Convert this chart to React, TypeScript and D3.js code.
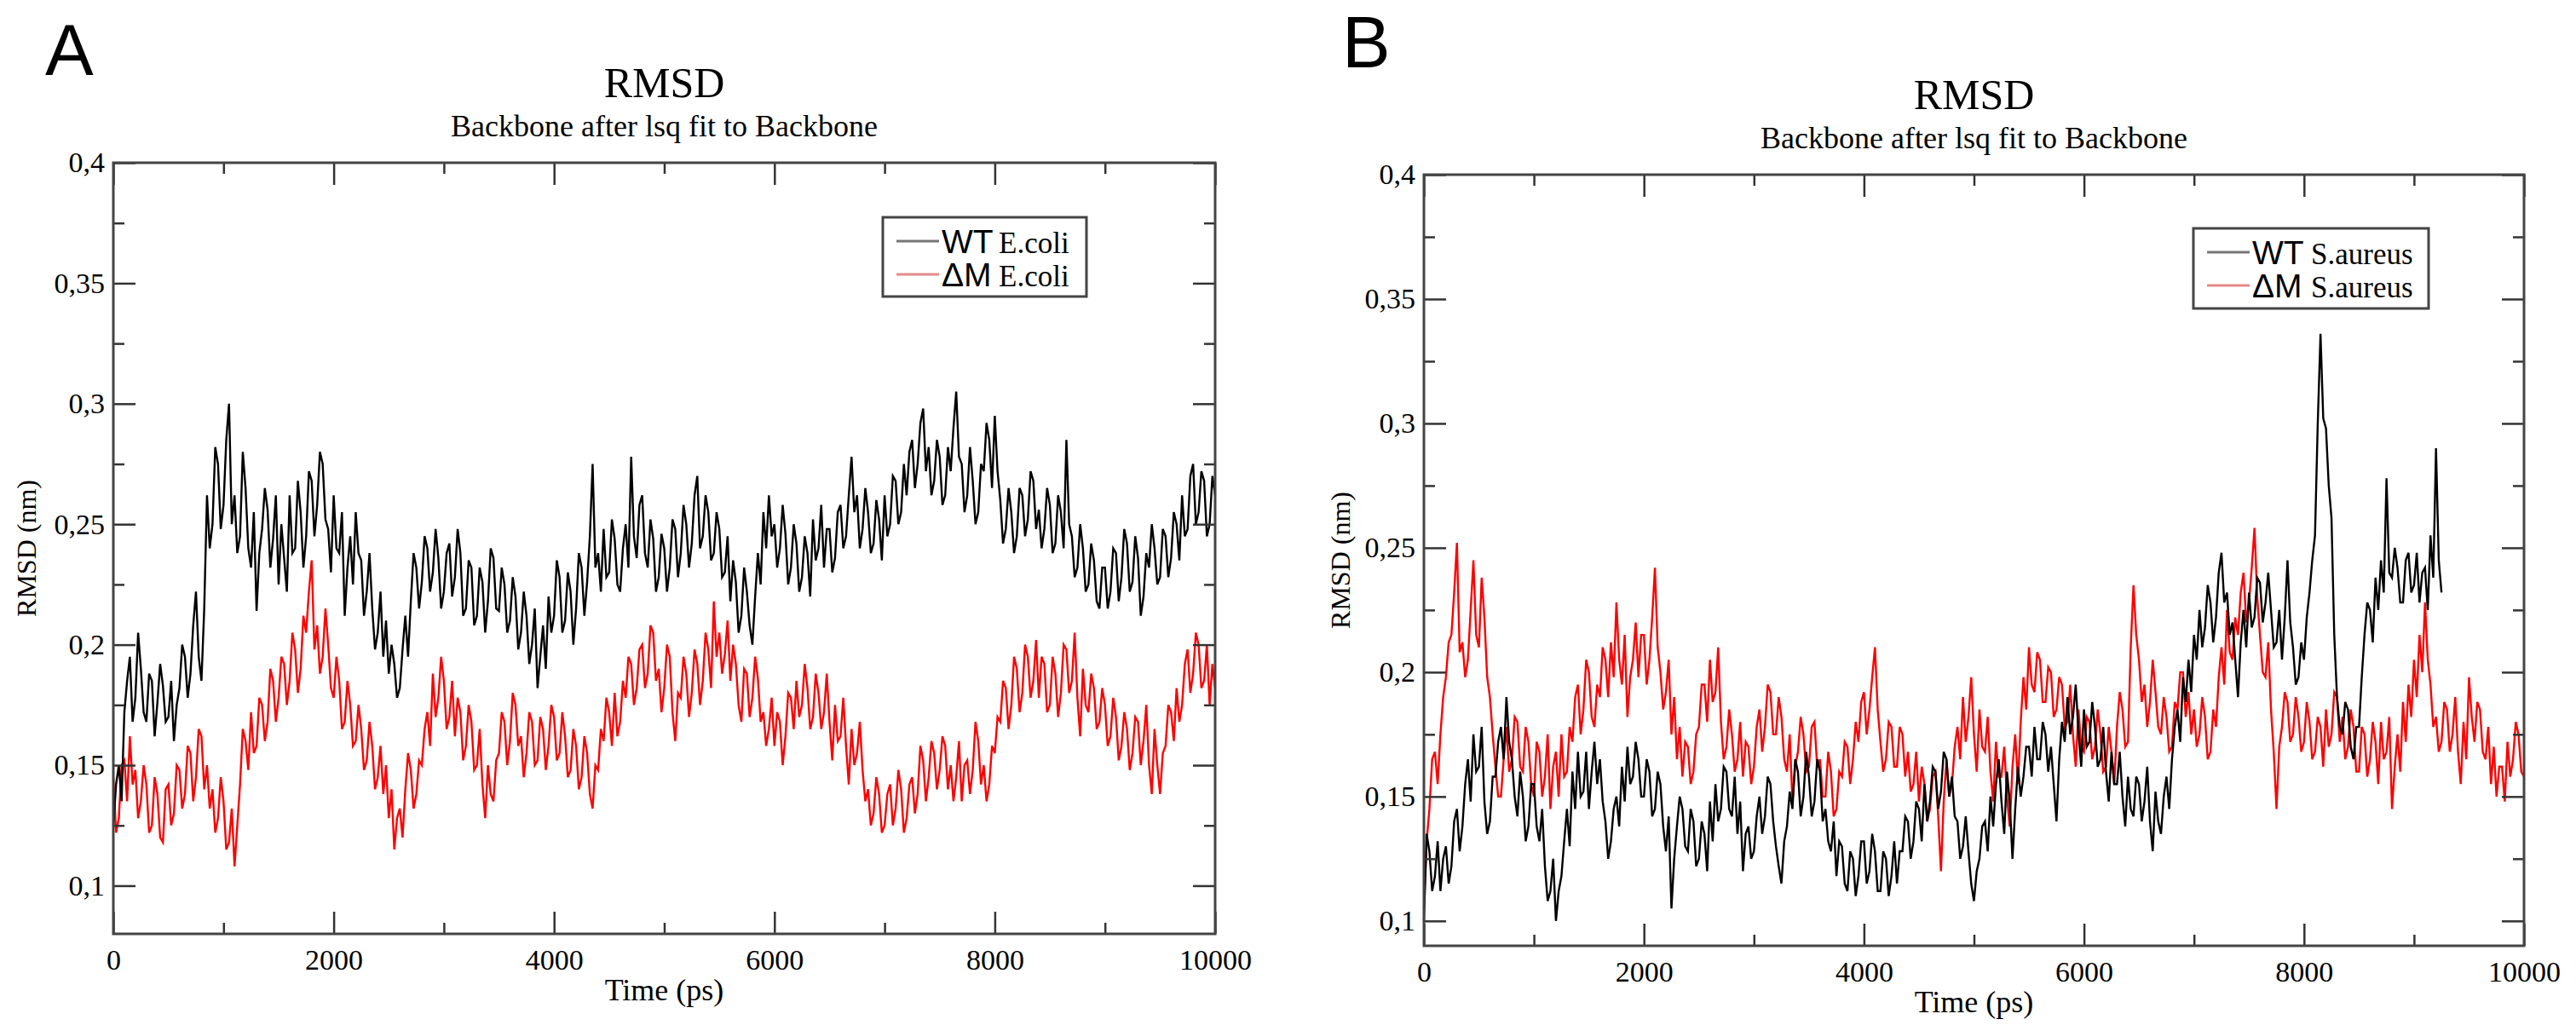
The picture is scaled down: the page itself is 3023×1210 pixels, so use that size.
import React, { useEffect, useRef } from "react";
import * as d3 from "d3";

// sampling step of all series (ps)
const timeStep = 25;

const xMajorTicks = [0, 2000, 4000, 6000, 8000, 10000];
const xMinorTicks = [1000, 3000, 5000, 7000, 9000];
const yMajorTicks = [0.1, 0.15, 0.2, 0.25, 0.3, 0.35, 0.4];
const yMajorLabels = ["0,1", "0,15", "0,2", "0,25", "0,3", "0,35", "0,4"];
const yMinorTicks = [0.125, 0.175, 0.225, 0.275, 0.325, 0.375];

// Panel A: E.coli, 0..10000 ps (one row = 500 ps)
const wtEcoli = [
    0.125, 0.142, 0.150, 0.135, 0.172, 0.185, 0.195, 0.168, 0.178, 0.205, 0.190, 0.172, 0.168, 0.188, 0.185, 0.162, 0.176, 0.192, 0.183, 0.168,
    0.170, 0.185, 0.160, 0.175, 0.182, 0.200, 0.195, 0.178, 0.188, 0.208, 0.222, 0.195, 0.185, 0.215, 0.262, 0.240, 0.250, 0.282, 0.275, 0.248,
    0.258, 0.285, 0.300, 0.250, 0.262, 0.238, 0.245, 0.280, 0.265, 0.240, 0.232, 0.255, 0.214, 0.238, 0.248, 0.265, 0.256, 0.232, 0.244, 0.262,
    0.225, 0.250, 0.236, 0.222, 0.262, 0.238, 0.240, 0.268, 0.255, 0.232, 0.245, 0.272, 0.268, 0.245, 0.258, 0.280, 0.275, 0.252, 0.248, 0.230,
    0.262, 0.240, 0.238, 0.255, 0.212, 0.232, 0.245, 0.225, 0.255, 0.238, 0.235, 0.212, 0.222, 0.238, 0.215, 0.198, 0.205, 0.222, 0.195, 0.210,
    0.188, 0.200, 0.192, 0.178, 0.182, 0.198, 0.212, 0.195, 0.218, 0.238, 0.232, 0.215, 0.226, 0.245, 0.240, 0.222, 0.230, 0.248, 0.236, 0.215,
    0.222, 0.238, 0.242, 0.220, 0.228, 0.248, 0.238, 0.212, 0.215, 0.235, 0.232, 0.208, 0.212, 0.232, 0.226, 0.205, 0.218, 0.240, 0.236, 0.215,
    0.214, 0.232, 0.225, 0.205, 0.210, 0.228, 0.220, 0.198, 0.205, 0.222, 0.212, 0.192, 0.200, 0.215, 0.182, 0.195, 0.208, 0.190, 0.220, 0.205,
    0.212, 0.235, 0.228, 0.205, 0.210, 0.230, 0.222, 0.200, 0.215, 0.238, 0.232, 0.212, 0.226, 0.245, 0.275, 0.232, 0.238, 0.222, 0.248, 0.228,
    0.230, 0.252, 0.244, 0.225, 0.222, 0.240, 0.250, 0.232, 0.278, 0.245, 0.236, 0.258, 0.262, 0.238, 0.232, 0.252, 0.244, 0.222, 0.228, 0.246,
    0.240, 0.222, 0.232, 0.252, 0.248, 0.228, 0.238, 0.258, 0.250, 0.232, 0.242, 0.262, 0.270, 0.240, 0.245, 0.262, 0.255, 0.235, 0.238, 0.255,
    0.248, 0.228, 0.230, 0.245, 0.218, 0.235, 0.226, 0.205, 0.212, 0.232, 0.222, 0.208, 0.200, 0.220, 0.238, 0.225, 0.255, 0.240, 0.262, 0.245,
    0.250, 0.232, 0.240, 0.258, 0.246, 0.225, 0.232, 0.250, 0.242, 0.222, 0.228, 0.245, 0.238, 0.220, 0.252, 0.235, 0.240, 0.258, 0.232, 0.248,
    0.248, 0.230, 0.236, 0.255, 0.258, 0.240, 0.245, 0.262, 0.278, 0.255, 0.262, 0.240, 0.248, 0.265, 0.255, 0.238, 0.242, 0.260, 0.252, 0.235,
    0.262, 0.245, 0.250, 0.270, 0.268, 0.250, 0.255, 0.275, 0.262, 0.280, 0.285, 0.265, 0.275, 0.292, 0.298, 0.272, 0.282, 0.262, 0.268, 0.285,
    0.278, 0.258, 0.262, 0.282, 0.272, 0.290, 0.305, 0.278, 0.275, 0.255, 0.262, 0.282, 0.268, 0.250, 0.255, 0.275, 0.272, 0.292, 0.285, 0.265,
    0.295, 0.272, 0.260, 0.242, 0.248, 0.265, 0.255, 0.238, 0.245, 0.265, 0.262, 0.245, 0.252, 0.272, 0.268, 0.248, 0.256, 0.240, 0.248, 0.265,
    0.258, 0.238, 0.242, 0.262, 0.255, 0.240, 0.285, 0.250, 0.245, 0.228, 0.232, 0.250, 0.240, 0.222, 0.225, 0.242, 0.235, 0.218, 0.215, 0.232,
    0.232, 0.215, 0.222, 0.240, 0.238, 0.218, 0.228, 0.248, 0.242, 0.222, 0.226, 0.245, 0.236, 0.212, 0.220, 0.238, 0.232, 0.250, 0.240, 0.225,
    0.228, 0.248, 0.245, 0.228, 0.236, 0.255, 0.250, 0.235, 0.262, 0.245, 0.248, 0.270, 0.275, 0.250, 0.255, 0.272, 0.268, 0.245, 0.250, 0.270,
    0.262,
];

const dmEcoli = [
    0.145, 0.122, 0.128, 0.150, 0.152, 0.135, 0.162, 0.142, 0.148, 0.128, 0.135, 0.150, 0.142, 0.122, 0.125, 0.145, 0.138, 0.120, 0.118, 0.140,
    0.142, 0.125, 0.130, 0.150, 0.148, 0.132, 0.138, 0.158, 0.155, 0.135, 0.145, 0.165, 0.162, 0.140, 0.150, 0.132, 0.140, 0.122, 0.128, 0.145,
    0.135, 0.115, 0.118, 0.132, 0.108, 0.125, 0.142, 0.165, 0.160, 0.148, 0.172, 0.155, 0.158, 0.178, 0.175, 0.160, 0.168, 0.190, 0.185, 0.168,
    0.178, 0.195, 0.192, 0.175, 0.185, 0.205, 0.198, 0.180, 0.190, 0.212, 0.205, 0.222, 0.235, 0.198, 0.208, 0.188, 0.195, 0.215, 0.200, 0.182,
    0.178, 0.195, 0.185, 0.165, 0.168, 0.185, 0.175, 0.158, 0.160, 0.175, 0.165, 0.148, 0.152, 0.168, 0.158, 0.140, 0.145, 0.158, 0.138, 0.150,
    0.128, 0.140, 0.115, 0.128, 0.132, 0.120, 0.140, 0.155, 0.148, 0.132, 0.138, 0.152, 0.150, 0.165, 0.172, 0.158, 0.188, 0.170, 0.178, 0.195,
    0.185, 0.165, 0.170, 0.185, 0.162, 0.178, 0.172, 0.152, 0.158, 0.175, 0.168, 0.148, 0.150, 0.165, 0.142, 0.128, 0.150, 0.138, 0.135, 0.152,
    0.155, 0.172, 0.168, 0.150, 0.160, 0.180, 0.175, 0.158, 0.162, 0.145, 0.155, 0.172, 0.168, 0.150, 0.152, 0.170, 0.165, 0.148, 0.158, 0.175,
    0.170, 0.152, 0.155, 0.172, 0.162, 0.145, 0.148, 0.165, 0.158, 0.140, 0.145, 0.162, 0.155, 0.138, 0.132, 0.150, 0.148, 0.165, 0.160, 0.178,
    0.172, 0.158, 0.180, 0.162, 0.168, 0.185, 0.178, 0.195, 0.192, 0.175, 0.182, 0.198, 0.200, 0.182, 0.188, 0.208, 0.205, 0.185, 0.190, 0.172,
    0.182, 0.200, 0.195, 0.172, 0.160, 0.180, 0.178, 0.195, 0.188, 0.170, 0.180, 0.198, 0.192, 0.175, 0.185, 0.205, 0.198, 0.182, 0.218, 0.195,
    0.205, 0.188, 0.196, 0.210, 0.185, 0.200, 0.192, 0.175, 0.168, 0.190, 0.188, 0.170, 0.178, 0.195, 0.186, 0.168, 0.172, 0.158, 0.165, 0.178,
    0.158, 0.172, 0.168, 0.150, 0.162, 0.180, 0.178, 0.165, 0.185, 0.170, 0.175, 0.192, 0.182, 0.165, 0.170, 0.188, 0.180, 0.165, 0.172, 0.188,
    0.168, 0.152, 0.175, 0.160, 0.162, 0.178, 0.158, 0.142, 0.165, 0.150, 0.155, 0.168, 0.148, 0.135, 0.140, 0.125, 0.130, 0.145, 0.138, 0.122,
    0.125, 0.138, 0.142, 0.125, 0.132, 0.148, 0.140, 0.122, 0.128, 0.142, 0.145, 0.130, 0.138, 0.158, 0.152, 0.135, 0.145, 0.160, 0.155, 0.140,
    0.148, 0.162, 0.158, 0.140, 0.150, 0.135, 0.145, 0.160, 0.135, 0.150, 0.152, 0.138, 0.148, 0.168, 0.160, 0.142, 0.150, 0.135, 0.142, 0.158,
    0.155, 0.170, 0.168, 0.185, 0.182, 0.165, 0.175, 0.195, 0.190, 0.172, 0.180, 0.200, 0.195, 0.178, 0.185, 0.202, 0.178, 0.195, 0.192, 0.172,
    0.175, 0.195, 0.188, 0.170, 0.180, 0.200, 0.198, 0.180, 0.185, 0.205, 0.178, 0.162, 0.190, 0.175, 0.172, 0.188, 0.182, 0.165, 0.168, 0.182,
    0.175, 0.158, 0.162, 0.178, 0.170, 0.152, 0.158, 0.172, 0.165, 0.148, 0.155, 0.170, 0.168, 0.150, 0.160, 0.175, 0.150, 0.138, 0.165, 0.150,
    0.138, 0.155, 0.158, 0.175, 0.172, 0.160, 0.182, 0.168, 0.175, 0.192, 0.198, 0.180, 0.188, 0.205, 0.200, 0.182, 0.185, 0.200, 0.175, 0.192,
    0.182,
];

// Panel B: S.aureus (WT run stops near 9250 ps)
const wtSaureus = [
    0.100, 0.135, 0.128, 0.112, 0.118, 0.132, 0.112, 0.125, 0.130, 0.115, 0.122, 0.140, 0.145, 0.128, 0.138, 0.155, 0.165, 0.148, 0.175, 0.160,
    0.162, 0.178, 0.148, 0.135, 0.140, 0.158, 0.158, 0.172, 0.178, 0.165, 0.190, 0.172, 0.165, 0.150, 0.142, 0.160, 0.150, 0.132, 0.138, 0.155,
    0.155, 0.138, 0.132, 0.145, 0.122, 0.108, 0.112, 0.125, 0.100, 0.112, 0.118, 0.132, 0.145, 0.130, 0.160, 0.145, 0.168, 0.150, 0.152, 0.168,
    0.145, 0.160, 0.172, 0.155, 0.165, 0.148, 0.140, 0.125, 0.132, 0.145, 0.150, 0.138, 0.162, 0.148, 0.170, 0.155, 0.158, 0.172, 0.165, 0.150,
    0.150, 0.165, 0.160, 0.142, 0.145, 0.160, 0.155, 0.138, 0.128, 0.142, 0.105, 0.125, 0.138, 0.150, 0.145, 0.130, 0.128, 0.145, 0.140, 0.122,
    0.125, 0.140, 0.135, 0.120, 0.148, 0.132, 0.155, 0.140, 0.145, 0.162, 0.160, 0.145, 0.142, 0.158, 0.135, 0.148, 0.120, 0.135, 0.138, 0.125,
    0.128, 0.142, 0.150, 0.135, 0.142, 0.158, 0.155, 0.140, 0.130, 0.122, 0.115, 0.132, 0.138, 0.152, 0.145, 0.165, 0.160, 0.142, 0.150, 0.168,
    0.158, 0.142, 0.148, 0.165, 0.160, 0.140, 0.145, 0.132, 0.128, 0.140, 0.118, 0.132, 0.130, 0.115, 0.112, 0.128, 0.125, 0.110, 0.118, 0.132,
    0.132, 0.115, 0.120, 0.135, 0.128, 0.112, 0.112, 0.128, 0.125, 0.110, 0.118, 0.132, 0.115, 0.128, 0.128, 0.142, 0.140, 0.125, 0.132, 0.148,
    0.145, 0.132, 0.155, 0.140, 0.148, 0.162, 0.160, 0.145, 0.152, 0.168, 0.165, 0.150, 0.158, 0.142, 0.140, 0.125, 0.130, 0.142, 0.128, 0.115,
    0.108, 0.120, 0.125, 0.138, 0.140, 0.128, 0.150, 0.138, 0.155, 0.165, 0.148, 0.135, 0.160, 0.148, 0.125, 0.145, 0.162, 0.150, 0.158, 0.170,
    0.170, 0.158, 0.178, 0.165, 0.165, 0.180, 0.175, 0.160, 0.170, 0.155, 0.140, 0.165, 0.180, 0.172, 0.190, 0.175, 0.182, 0.195, 0.176, 0.162,
    0.185, 0.170, 0.172, 0.188, 0.178, 0.162, 0.165, 0.178, 0.160, 0.148, 0.168, 0.155, 0.155, 0.168, 0.150, 0.138, 0.158, 0.145, 0.142, 0.158,
    0.155, 0.140, 0.148, 0.162, 0.140, 0.128, 0.152, 0.140, 0.135, 0.150, 0.158, 0.145, 0.165, 0.178, 0.185, 0.172, 0.198, 0.188, 0.205, 0.192,
    0.215, 0.205, 0.225, 0.210, 0.218, 0.235, 0.228, 0.212, 0.222, 0.240, 0.248, 0.228, 0.232, 0.215, 0.220, 0.205, 0.190, 0.212, 0.225, 0.210,
    0.232, 0.218, 0.222, 0.238, 0.236, 0.220, 0.228, 0.240, 0.225, 0.210, 0.212, 0.225, 0.205, 0.222, 0.245, 0.220, 0.210, 0.195, 0.198, 0.212,
    0.205, 0.222, 0.232, 0.245, 0.255, 0.300, 0.336, 0.302, 0.298, 0.275, 0.262, 0.215, 0.190, 0.178, 0.175, 0.188, 0.185, 0.170, 0.165, 0.178,
    0.178, 0.198, 0.215, 0.228, 0.225, 0.212, 0.238, 0.225, 0.245, 0.232, 0.278, 0.240, 0.238, 0.250, 0.242, 0.228, 0.228, 0.245, 0.248, 0.232,
    0.235, 0.248, 0.228, 0.240, 0.242, 0.225, 0.255, 0.238, 0.290, 0.245, 0.232,
];

const dmSaureus = [
    0.105, 0.132, 0.145, 0.165, 0.168, 0.155, 0.175, 0.190, 0.198, 0.212, 0.215, 0.232, 0.252, 0.208, 0.212, 0.198, 0.205, 0.225, 0.245, 0.215,
    0.210, 0.238, 0.222, 0.198, 0.190, 0.175, 0.162, 0.150, 0.150, 0.165, 0.178, 0.160, 0.165, 0.182, 0.180, 0.162, 0.160, 0.178, 0.172, 0.155,
    0.150, 0.172, 0.168, 0.150, 0.158, 0.175, 0.145, 0.162, 0.168, 0.150, 0.175, 0.158, 0.160, 0.178, 0.172, 0.190, 0.195, 0.175, 0.185, 0.205,
    0.200, 0.182, 0.178, 0.195, 0.190, 0.210, 0.205, 0.190, 0.212, 0.198, 0.228, 0.205, 0.195, 0.215, 0.182, 0.198, 0.205, 0.220, 0.198, 0.215,
    0.215, 0.195, 0.205, 0.222, 0.242, 0.210, 0.200, 0.185, 0.192, 0.205, 0.175, 0.190, 0.165, 0.178, 0.158, 0.172, 0.170, 0.155, 0.160, 0.175,
    0.178, 0.195, 0.195, 0.180, 0.205, 0.188, 0.192, 0.210, 0.180, 0.165, 0.170, 0.185, 0.175, 0.160, 0.165, 0.180, 0.158, 0.172, 0.170, 0.155,
    0.162, 0.178, 0.185, 0.168, 0.178, 0.195, 0.192, 0.175, 0.175, 0.190, 0.182, 0.165, 0.160, 0.175, 0.148, 0.162, 0.168, 0.182, 0.175, 0.160,
    0.162, 0.178, 0.180, 0.162, 0.165, 0.150, 0.150, 0.168, 0.160, 0.142, 0.145, 0.160, 0.158, 0.172, 0.170, 0.155, 0.165, 0.180, 0.172, 0.188,
    0.192, 0.175, 0.185, 0.198, 0.210, 0.185, 0.172, 0.160, 0.165, 0.180, 0.178, 0.162, 0.162, 0.178, 0.175, 0.158, 0.168, 0.152, 0.155, 0.168,
    0.148, 0.162, 0.155, 0.140, 0.145, 0.158, 0.160, 0.142, 0.120, 0.148, 0.165, 0.150, 0.155, 0.170, 0.178, 0.165, 0.190, 0.172, 0.182, 0.198,
    0.175, 0.160, 0.185, 0.170, 0.168, 0.182, 0.160, 0.148, 0.172, 0.158, 0.158, 0.170, 0.150, 0.138, 0.162, 0.175, 0.155, 0.180, 0.198, 0.185,
    0.210, 0.195, 0.192, 0.208, 0.205, 0.188, 0.188, 0.202, 0.200, 0.182, 0.185, 0.198, 0.195, 0.178, 0.180, 0.195, 0.175, 0.162, 0.185, 0.170,
    0.168, 0.182, 0.180, 0.165, 0.170, 0.185, 0.175, 0.160, 0.162, 0.178, 0.168, 0.155, 0.178, 0.192, 0.185, 0.170, 0.172, 0.210, 0.235, 0.215,
    0.205, 0.188, 0.195, 0.178, 0.188, 0.205, 0.192, 0.178, 0.175, 0.190, 0.182, 0.168, 0.170, 0.188, 0.185, 0.200, 0.200, 0.182, 0.192, 0.175,
    0.185, 0.170, 0.175, 0.190, 0.182, 0.165, 0.168, 0.185, 0.178, 0.198, 0.210, 0.195, 0.225, 0.208, 0.205, 0.222, 0.215, 0.232, 0.240, 0.220,
    0.228, 0.242, 0.258, 0.230, 0.215, 0.200, 0.198, 0.212, 0.185, 0.168, 0.145, 0.170, 0.178, 0.192, 0.188, 0.172, 0.175, 0.190, 0.182, 0.168,
    0.172, 0.188, 0.180, 0.165, 0.168, 0.182, 0.178, 0.162, 0.185, 0.170, 0.175, 0.192, 0.190, 0.172, 0.182, 0.165, 0.170, 0.185, 0.178, 0.160,
    0.160, 0.178, 0.175, 0.158, 0.165, 0.180, 0.172, 0.155, 0.180, 0.165, 0.168, 0.182, 0.145, 0.162, 0.175, 0.160, 0.188, 0.172, 0.195, 0.182,
    0.205, 0.190, 0.215, 0.200, 0.228, 0.205, 0.195, 0.178, 0.182, 0.168, 0.172, 0.188, 0.185, 0.168, 0.175, 0.190, 0.168, 0.155, 0.180, 0.165,
    0.198, 0.182, 0.172, 0.188, 0.185, 0.168, 0.165, 0.178, 0.155, 0.170, 0.150, 0.162, 0.162, 0.148, 0.172, 0.158, 0.165, 0.180, 0.175, 0.160,
    0.158,
];

const SERIF = "'Liberation Serif', 'Times New Roman', serif";
const SANS = "'Liberation Sans', Arial, sans-serif";

interface PanelConfig {
    letter: string;
    letterPos: [number, number];
    left: number;
    right: number;
    top: number;
    bottom: number;
    yMin: number;
    titleY: number;
    subtitleY: number;
    xLabelY: number;
    yLabelX: number;
    legend: { x: number; y: number; w: number; h: number; organism: string; nameX: number };
    wt: number[];
    dm: number[];
}

const panels: PanelConfig[] = [
    {
        letter: "A",
        letterPos: [53, 88],
        left: 133,
        right: 1426,
        top: 191,
        bottom: 1096,
        yMin: 0.08,
        titleY: 114,
        subtitleY: 160,
        xLabelY: 1174,
        yLabelX: 42,
        legend: { x: 1036, y: 255, w: 239, h: 93, organism: "E.coli", nameX: 1172 },
        wt: wtEcoli,
        dm: dmEcoli,
    },
    {
        letter: "B",
        letterPos: [1575, 79],
        left: 1671,
        right: 2962,
        top: 205,
        bottom: 1110,
        yMin: 0.09,
        titleY: 128,
        subtitleY: 174,
        xLabelY: 1188,
        yLabelX: 1584,
        legend: { x: 2574, y: 268, w: 276, h: 94, organism: "S.aureus", nameX: 2712 },
        wt: wtSaureus,
        dm: dmSaureus,
    },
];

const App: React.FC = () => {
    const svgRef = useRef<SVGSVGElement | null>(null);

    useEffect(() => {
        if (!svgRef.current) return;
        const svg = d3.select(svgRef.current);
        svg.selectAll("*").remove();

        svg.append("rect")
            .attr("width", 3023)
            .attr("height", 1210)
            .attr("fill", "#fff");

        panels.forEach((p) => {
            const g = svg.append("g");
            const cx = (p.left + p.right) / 2;
            const cy = (p.top + p.bottom) / 2;

            const x = d3.scaleLinear().domain([0, 10000]).range([p.left, p.right]);
            const y = d3.scaleLinear().domain([p.yMin, 0.4]).range([p.bottom, p.top]);

            // panel letter
            g.append("text")
                .attr("x", p.letterPos[0])
                .attr("y", p.letterPos[1])
                .attr("font-family", SANS)
                .attr("font-size", 85)
                .text(p.letter);

            // titles
            g.append("text")
                .attr("x", cx)
                .attr("y", p.titleY)
                .attr("text-anchor", "middle")
                .attr("font-family", SERIF)
                .attr("font-size", 50)
                .text("RMSD");
            g.append("text")
                .attr("x", cx)
                .attr("y", p.subtitleY)
                .attr("text-anchor", "middle")
                .attr("font-family", SERIF)
                .attr("font-size", 36)
                .text("Backbone after lsq fit to Backbone");

            // data lines
            const line = d3
                .line<number>()
                .x((_, i) => x(i * timeStep))
                .y((d) => y(d));

            g.append("path")
                .datum(p.dm)
                .attr("fill", "none")
                .attr("stroke", "#ff0000")
                .attr("stroke-width", 2.4)
                .attr("d", line);
            g.append("path")
                .datum(p.wt)
                .attr("fill", "none")
                .attr("stroke", "#000")
                .attr("stroke-width", 2.4)
                .attr("d", line);

            // axes with inward ticks on all sides
            const styleAxis = (sel: d3.Selection<SVGGElement, unknown, null, undefined>) => {
                sel.select(".domain").remove();
                sel.selectAll(".tick line").attr("stroke", "#333").attr("stroke-width", 2.5);
                sel.selectAll(".tick text")
                    .attr("font-family", SERIF)
                    .attr("font-size", 34)
                    .attr("fill", "#000");
            };

            g.append("g")
                .attr("transform", `translate(0,${p.bottom})`)
                .call(
                    d3.axisBottom(x)
                        .tickValues(xMajorTicks)
                        .tickSize(-26)
                        .tickPadding(18)
                        .tickFormat((d) => String(d))
                )
                .call(styleAxis);
            g.append("g")
                .attr("transform", `translate(0,${p.bottom})`)
                .call(d3.axisBottom(x).tickValues(xMinorTicks).tickSize(-13).tickFormat(() => ""))
                .call(styleAxis);
            g.append("g")
                .attr("transform", `translate(0,${p.top})`)
                .call(d3.axisTop(x).tickValues(xMajorTicks).tickSize(-26).tickFormat(() => ""))
                .call(styleAxis);
            g.append("g")
                .attr("transform", `translate(0,${p.top})`)
                .call(d3.axisTop(x).tickValues(xMinorTicks).tickSize(-13).tickFormat(() => ""))
                .call(styleAxis);

            g.append("g")
                .attr("transform", `translate(${p.left},0)`)
                .call(
                    d3.axisLeft(y)
                        .tickValues(yMajorTicks)
                        .tickSize(-26)
                        .tickPadding(10)
                        .tickFormat((_, i) => yMajorLabels[i])
                )
                .call(styleAxis);
            g.append("g")
                .attr("transform", `translate(${p.left},0)`)
                .call(d3.axisLeft(y).tickValues(yMinorTicks).tickSize(-13).tickFormat(() => ""))
                .call(styleAxis);
            g.append("g")
                .attr("transform", `translate(${p.right},0)`)
                .call(d3.axisRight(y).tickValues(yMajorTicks).tickSize(-26).tickFormat(() => ""))
                .call(styleAxis);
            g.append("g")
                .attr("transform", `translate(${p.right},0)`)
                .call(d3.axisRight(y).tickValues(yMinorTicks).tickSize(-13).tickFormat(() => ""))
                .call(styleAxis);

            // frame
            g.append("rect")
                .attr("x", p.left)
                .attr("y", p.top)
                .attr("width", p.right - p.left)
                .attr("height", p.bottom - p.top)
                .attr("fill", "none")
                .attr("stroke", "#444")
                .attr("stroke-width", 3);

            // axis labels
            g.append("text")
                .attr("x", cx)
                .attr("y", p.xLabelY)
                .attr("text-anchor", "middle")
                .attr("font-family", SERIF)
                .attr("font-size", 36)
                .text("Time (ps)");
            g.append("text")
                .attr("transform", `translate(${p.yLabelX},${cy}) rotate(-90)`)
                .attr("text-anchor", "middle")
                .attr("font-family", SERIF)
                .attr("font-size", 32)
                .text("RMSD (nm)");

            // legend
            const L = p.legend;
            const lg = g.append("g");
            lg.append("rect")
                .attr("x", L.x)
                .attr("y", L.y)
                .attr("width", L.w)
                .attr("height", L.h)
                .attr("fill", "#fff")
                .attr("stroke", "#444")
                .attr("stroke-width", 3);
            const rows = [
                { key: "WT", color: "#777", dy: 28 },
                { key: "ΔM", color: "#e58a8a", dy: 67 },
            ];
            rows.forEach((r) => {
                lg.append("line")
                    .attr("x1", L.x + 16)
                    .attr("x2", L.x + 66)
                    .attr("y1", L.y + r.dy)
                    .attr("y2", L.y + r.dy)
                    .attr("stroke", r.color)
                    .attr("stroke-width", 3);
                lg.append("text")
                    .attr("x", L.x + 69)
                    .attr("y", L.y + r.dy + 14)
                    .attr("font-family", SANS)
                    .attr("font-size", 39)
                    .text(r.key);
                lg.append("text")
                    .attr("x", L.nameX)
                    .attr("y", L.y + r.dy + 14)
                    .attr("font-family", SERIF)
                    .attr("font-size", 35)
                    .text(L.organism);
            });
        });
    }, []);

    return (
        <svg
            ref={svgRef}
            width={3023}
            height={1210}
            style={{ position: "absolute", left: 0, top: 0 }}
        ></svg>
    );
};

export default App;
